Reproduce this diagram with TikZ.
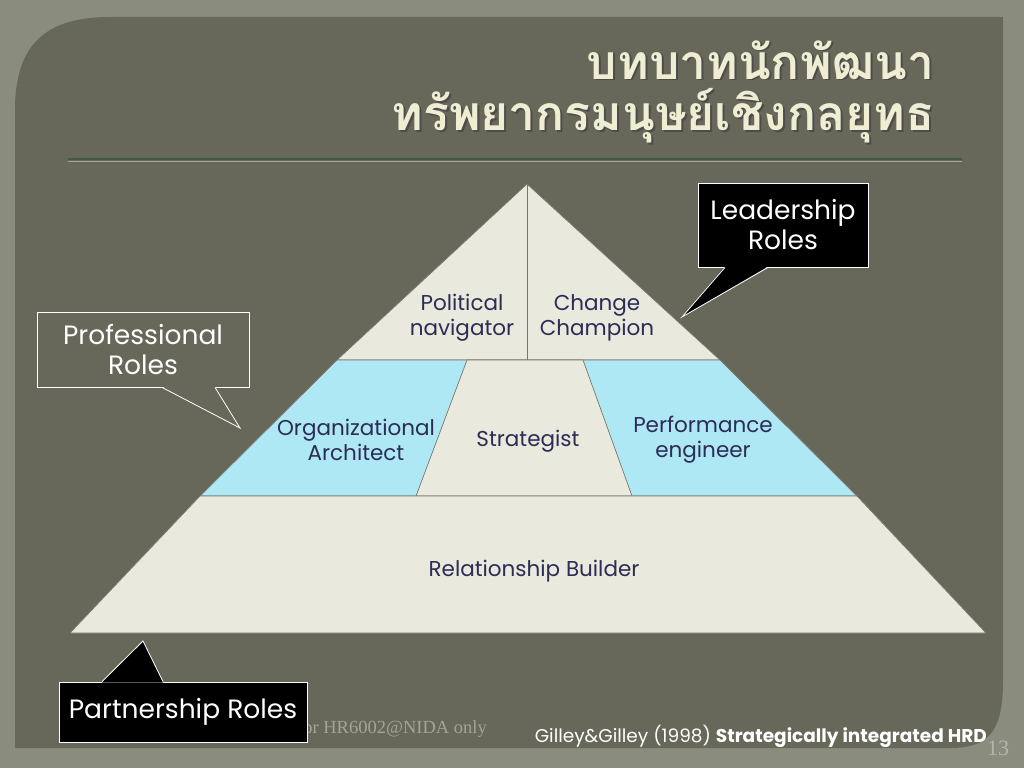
\documentclass[tikz,border=0pt]{standalone}
\usepackage{fontspec}
\setmainfont{Poppins}
\newfontfamily\thaifont[Script=Thai]{Loma}
\newfontfamily\footserif{Liberation Serif}
\usepackage{tikz}
\usetikzlibrary{positioning}
\definecolor{outerbg}{HTML}{8A8C7E}
\definecolor{panelbg}{HTML}{676859}
\definecolor{cream}{HTML}{E9E9DD}
\definecolor{skyblue}{HTML}{AEE8F5}
\definecolor{navytext}{HTML}{2C2C55}
\definecolor{titlecol}{HTML}{EFEDD2}
\definecolor{rulegreen}{HTML}{3E5A40}
\definecolor{footgray}{HTML}{A3A397}
\definecolor{edgegray}{HTML}{77776C}

\begin{document}
\begin{tikzpicture}[x=1pt,y=-1pt,
        level/.style={draw=edgegray, line width=0.7pt, line join=round},
        role/.style={text=navytext, font=\fontsize{21.5}{25}\selectfont, align=center, inner sep=0pt},
        bubble/.style={draw=white, line width=0.8pt, align=center, text=white,
            font=\fontsize{26.5}{30}\selectfont, inner sep=0pt},
        titletext/.style={anchor=base east, font=\thaifont\bfseries\fontsize{48}{52}\selectfont, inner sep=0pt}
        ]
        \useasboundingbox (0,0) rectangle (1024,768);
        
        % The background
        \fill[outerbg] (0,0) rectangle (1024,768);
        \fill[panelbg] (15,748) -- (15,110) .. controls (15,45) and (45,17) .. (110,17) -- (1003,17)
            -- (1003,680) .. controls (1003,730) and (990,748) .. (950,748) -- cycle;
        
        % The title
        \node[titletext, text=black!70] at (937,81) {บทบาทนักพัฒนา};
        \node[titletext, text=titlecol] (title1) at (935,79) {บทบาทนักพัฒนา};
        \node[titletext, text=black!70] at (937,132) {ทรัพยากรมนุษย์เชิงกลยุทธ};
        \node[titletext, text=titlecol] (title2) at (935,130) {ทรัพยากรมนุษย์เชิงกลยุทธ};
        \draw[rulegreen, line width=2pt] (68,159) -- (962,159);
        \draw[panelbg!60!white, line width=0.8pt] (68,161) -- (962,161);
        
        % The pyramid
        \coordinate (apex) at (527,184);
        \coordinate (mid) at (527,360);
        \coordinate (tl) at (337,360);
        \coordinate (tr) at (720,360);
        \coordinate (ml) at (200,496);
        \coordinate (mr) at (857,496);
        \coordinate (bl) at (70,633);
        \coordinate (br) at (986,633);
        \coordinate (stl) at (467,360);
        \coordinate (str) at (583,360);
        \coordinate (sbl) at (416,496);
        \coordinate (sbr) at (632,496);
        
        \path[level, fill=cream] (apex) -- (tr) -- (tl) -- cycle;
        \draw[level] (apex) -- (mid);
        \path[level, fill=skyblue] (tl) -- (tr) -- (mr) -- (ml) -- cycle;
        \path[level, fill=cream] (stl) -- (str) -- (sbr) -- (sbl) -- cycle;
        \path[level, fill=cream] (ml) -- (mr) -- (br) -- (bl) -- cycle;
        
        % The labels
        \node[role] (political) at (462,318) {Political\\navigator};
        \node[role] (change) at (597,318) {Change\\Champion};
        \node[role] (architect) at (356,440) {Organizational\\Architect};
        \node[role] (strategist) at (528,441) {Strategist};
        \node[role] (performance) at (703,440) {Performance\\engineer};
        \node[role] (builder) at (534,571) {Relationship Builder};
        
        % The footer
        \node[anchor=base east, text=footgray, font=\footserif\fontsize{18.5}{20}\selectfont, inner sep=0pt]
            (nida) at (487,733) {For HR6002@NIDA only};
        \node[anchor=base east, text=white, font=\fontsize{18.5}{20}\selectfont, inner sep=0pt]
            (cite) at (987,742) {Gilley\&Gilley (1998) \textbf{Strategically integrated HRD}};
        \node[anchor=base west, text=footgray!80!white, font=\footserif\fontsize{22}{24}\selectfont, inner sep=0pt]
            (pagenum) at (987,755) {13};
        
        % The callouts
        \node[bubble, fill=black, minimum width=170, minimum height=84] (leadbox) at (783,225) {Leadership\\Roles};
        \coordinate (leadtip) at (682,317);
        \fill[black] ([xshift=-58pt,yshift=1pt]leadbox.south) -- (leadtip) -- ([xshift=-15pt,yshift=1pt]leadbox.south) -- cycle;
        \draw[white, line width=0.8pt] ([xshift=-58pt]leadbox.south) -- (leadtip) -- ([xshift=-15pt]leadbox.south);
        
        \node[bubble, fill=panelbg, minimum width=212, minimum height=75] (profbox) at (143,349.5) {Professional\\Roles};
        \coordinate (proftip) at (240,428);
        \fill[panelbg] ([xshift=19pt,yshift=1pt]profbox.south) -- (proftip) -- ([xshift=72pt,yshift=1pt]profbox.south) -- cycle;
        \draw[white, line width=0.8pt] ([xshift=19pt]profbox.south) -- (proftip) -- ([xshift=72pt]profbox.south);
        
        \node[bubble, fill=black, minimum width=248, minimum height=60] (partbox) at (183,712) {Partnership Roles};
        \coordinate (parttip) at (143,641);
        \fill[black] ([xshift=-81pt,yshift=-1pt]partbox.north) -- (parttip) -- ([xshift=-20pt,yshift=-1pt]partbox.north) -- cycle;
        \draw[white, line width=0.8pt] ([xshift=-81pt]partbox.north) -- (parttip) -- ([xshift=-20pt]partbox.north);
\end{tikzpicture}
\end{document}
